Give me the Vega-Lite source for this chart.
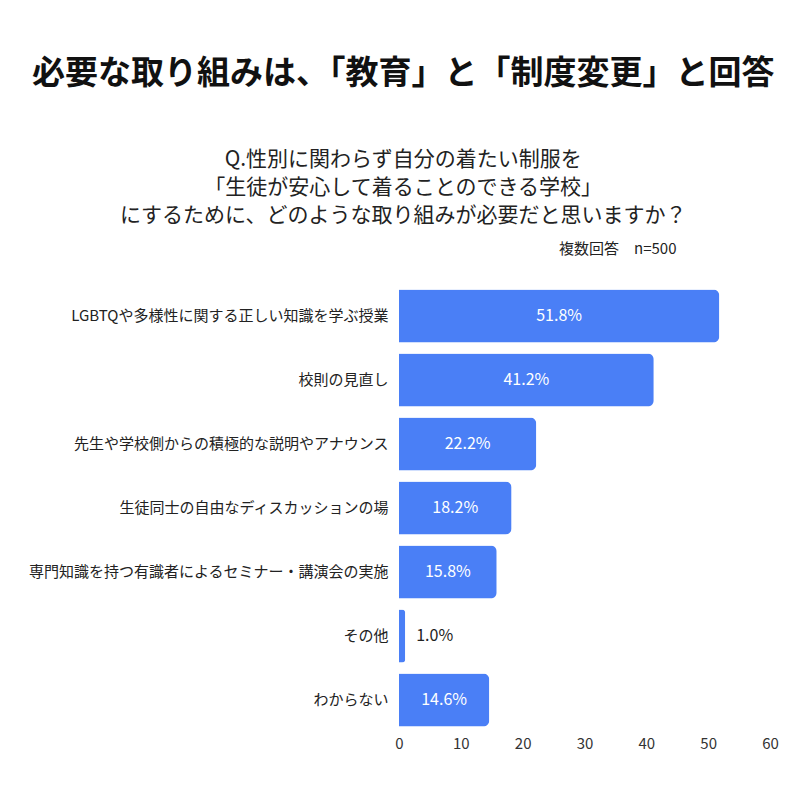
{
  "$schema": "https://vega.github.io/schema/vega-lite/v6.json",
  "width": 371,
  "height": 448,
  "autosize": {"type": "none"},
  "padding": {"left": 399, "top": 284, "right": 30, "bottom": 68},
  "background": "white",
  "title": {
    "text": "必要な取り組みは、「教育」と「制度変更」と回答",
    "subtitle": ["Q.性別に関わらず自分の着たい制服を", "「生徒が安心して着ることのできる学校」", "にするために、どのような取り組みが必要だと思いますか？"],
    "anchor": "middle",
    "frame": "bounds",
    "font": "Noto Sans CJK JP",
    "fontSize": 33,
    "fontWeight": "bold",
    "color": "#111111",
    "subtitleFont": "Noto Sans CJK JP",
    "subtitleFontSize": 21,
    "subtitleColor": "#222222",
    "subtitleLineHeight": 28,
    "subtitlePadding": 58,
    "offset": 15
  },
  "data": {
    "values": [
      {"item": "LGBTQや多様性に関する正しい知識を学ぶ授業", "value": 51.8},
      {"item": "校則の見直し", "value": 41.2},
      {"item": "先生や学校側からの積極的な説明やアナウンス", "value": 22.2},
      {"item": "生徒同士の自由なディスカッションの場", "value": 18.2},
      {"item": "専門知識を持つ有識者によるセミナー・講演会の実施", "value": 15.8},
      {"item": "その他", "value": 1.0},
      {"item": "わからない", "value": 14.6}
    ]
  },
  "transform": [
    {"calculate": "format(datum.value, '.1f') + '%'", "as": "label"},
    {"calculate": "datum.value / 2", "as": "mid"}
  ],
  "encoding": {
    "y": {
      "field": "item",
      "type": "nominal",
      "sort": null,
      "scale": {"paddingInner": 0.17, "paddingOuter": 0.085},
      "axis": {
        "title": "複数回答　n=500",
        "titleAngle": 0,
        "titleAlign": "right",
        "titleBaseline": "middle",
        "titleX": 277,
        "titleY": -36,
        "titleFont": "Noto Sans CJK JP",
        "titleFontSize": 15,
        "titleFontWeight": "normal",
        "titleColor": "#222222",
        "domain": false,
        "ticks": false,
        "labelPadding": 11,
        "labelFont": "Noto Sans CJK JP",
        "labelFontSize": 15,
        "labelColor": "#222222",
        "labelLimit": 400
      }
    }
  },
  "layer": [
    {
      "mark": {"type": "bar", "color": "#4a7ff6", "cornerRadiusEnd": 6},
      "encoding": {
        "x": {
          "field": "value",
          "type": "quantitative",
          "scale": {"domain": [0, 60], "nice": false},
          "axis": {
            "title": null,
            "values": [0, 10, 20, 30, 40, 50, 60],
            "grid": false,
            "domain": false,
            "ticks": false,
            "labelFlush": false,
            "labelPadding": 4,
            "labelFont": "Noto Sans CJK JP",
            "labelFontSize": 15,
            "labelColor": "#333333"
          }
        }
      }
    },
    {
      "transform": [{"filter": "datum.value >= 5"}],
      "mark": {"type": "text", "color": "white", "font": "Noto Sans CJK JP", "fontSize": 16, "align": "center", "baseline": "middle"},
      "encoding": {
        "x": {
          "field": "mid",
          "type": "quantitative",
          "axis": {
            "title": null,
            "values": [0, 10, 20, 30, 40, 50, 60],
            "grid": false,
            "domain": false,
            "ticks": false,
            "labelFlush": false,
            "labelPadding": 4,
            "labelFont": "Noto Sans CJK JP",
            "labelFontSize": 15,
            "labelColor": "#333333"
          }
        },
        "text": {"field": "label"}
      }
    },
    {
      "transform": [{"filter": "datum.value < 5"}],
      "mark": {"type": "text", "color": "#222222", "font": "Noto Sans CJK JP", "fontSize": 16, "align": "left", "baseline": "middle", "dx": 11},
      "encoding": {
        "x": {
          "field": "value",
          "type": "quantitative",
          "axis": {
            "title": null,
            "values": [0, 10, 20, 30, 40, 50, 60],
            "grid": false,
            "domain": false,
            "ticks": false,
            "labelFlush": false,
            "labelPadding": 4,
            "labelFont": "Noto Sans CJK JP",
            "labelFontSize": 15,
            "labelColor": "#333333"
          }
        },
        "text": {"field": "label"}
      }
    }
  ],
  "config": {"view": {"stroke": null}}
}
